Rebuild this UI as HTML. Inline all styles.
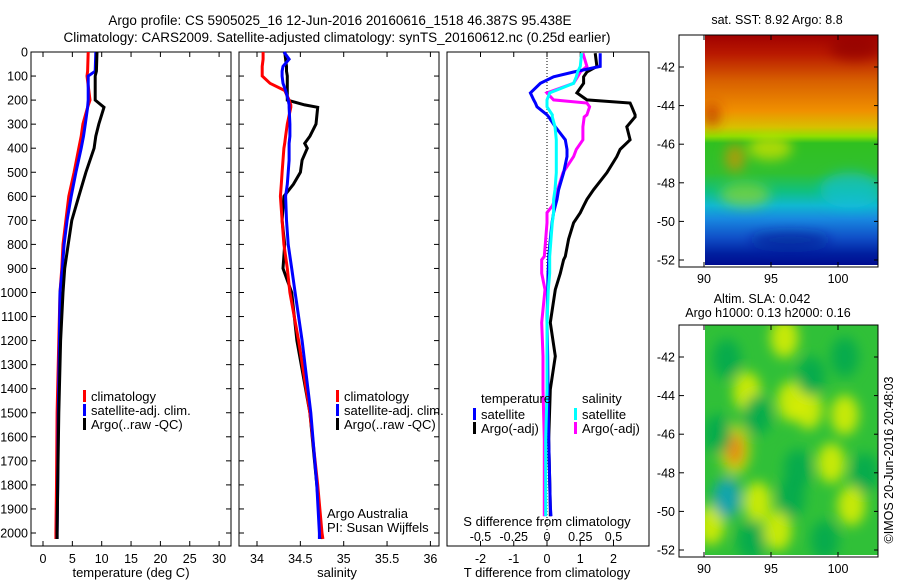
<!DOCTYPE html>
<html><head><meta charset="utf-8"><style>
body{margin:0;background:#fff}
svg{display:block;font-family:"Liberation Sans",sans-serif}
</style></head><body>
<svg id="fig" width="900" height="580" viewBox="0 0 900 580" xmlns="http://www.w3.org/2000/svg">
<defs>
<linearGradient id="sstg" x1="0" y1="0" x2="0" y2="1">
<stop offset="0" stop-color="#a00000"/><stop offset="0.08" stop-color="#b81800"/>
<stop offset="0.2" stop-color="#d86000"/><stop offset="0.33" stop-color="#f09000"/>
<stop offset="0.4" stop-color="#d8c000"/><stop offset="0.44" stop-color="#90e000"/>
<stop offset="0.47" stop-color="#30c020"/><stop offset="0.6" stop-color="#30c030"/>
<stop offset="0.68" stop-color="#10c080"/><stop offset="0.74" stop-color="#10b8d0"/>
<stop offset="0.8" stop-color="#1888e0"/><stop offset="0.88" stop-color="#1050c8"/>
<stop offset="0.95" stop-color="#0020a0"/><stop offset="1" stop-color="#000c90"/>
</linearGradient>
<filter id="blur6"><feGaussianBlur stdDeviation="6"/></filter>
<clipPath id="clipA"><rect x="705" y="35" width="173" height="230"/></clipPath>
<clipPath id="clipB"><rect x="705" y="325" width="173" height="230"/></clipPath>
</defs>

<g font-size="13.5" text-anchor="middle">
<text x="340" y="25">Argo profile: CS 5905025_16 12-Jun-2016 20160616_1518 46.387S 95.438E</text>
<text x="337" y="42">Climatology: CARS2009. Satellite-adjusted climatology: synTS_20160612.nc (0.25d earlier)</text>
</g>

<g id="panels"></g>

<g>
<text x="777" y="24" font-size="12.5" text-anchor="middle">sat. SST: 8.92 Argo: 8.8</text>
<g clip-path="url(#clipA)">
<rect x="705" y="35" width="173" height="230" fill="url(#sstg)"/>
<g filter="url(#blur6)">
<ellipse cx="770" cy="148" rx="22" ry="12" fill="#c8e000" opacity="0.8"/>
<ellipse cx="735" cy="158" rx="10" ry="14" fill="#d89000" opacity="0.7"/>
<ellipse cx="745" cy="195" rx="25" ry="12" fill="#a0d820" opacity="0.6"/>
<ellipse cx="850" cy="190" rx="30" ry="18" fill="#10c0e0" opacity="0.6"/>
<ellipse cx="855" cy="48" rx="25" ry="12" fill="#900000" opacity="0.7"/>
<ellipse cx="712" cy="115" rx="8" ry="12" fill="#b83000" opacity="0.7"/>
<ellipse cx="790" cy="240" rx="40" ry="8" fill="#002090" opacity="0.6"/>
</g>
</g>
<rect x="679" y="35" width="199" height="232" fill="none" stroke="#000"/>
</g>

<g>
<text x="762" y="303" font-size="12.5" text-anchor="middle">Altim. SLA: 0.042</text>
<text x="768" y="317" font-size="12.5" text-anchor="middle">Argo h1000: 0.13 h2000: 0.16</text>
<g clip-path="url(#clipB)">
<rect x="705" y="325" width="173" height="230" fill="#30c038"/>
<g filter="url(#blur6)" id="slablobs"></g>
</g>
<rect x="679" y="325" width="199" height="232" fill="none" stroke="#000"/>
</g>
<text transform="translate(893,460) rotate(-90)" font-size="12.5" text-anchor="middle">©IMOS 20-Jun-2016 20:48:03</text>
</svg>
<script>
// ---- data ----
const depthsT = [0,80,100,200,230,300,350,400,500,600,700,800,900,1000,1200,1500,1800,2000,2025];
const tempArgo = [9.2,9.1,8.9,8.9,10.4,9.5,9.0,8.7,7.3,6.1,4.9,4.3,3.7,3.4,3.0,2.7,2.5,2.4,2.4];
const tempClim = [7.7,7.6,7.5,8.0,7.6,6.8,6.5,6.1,5.3,4.4,3.9,3.4,3.2,2.9,2.7,2.4,2.3,2.2,2.2];
const tempSat  = [9.0,8.9,7.7,7.7,7.6,7.2,6.9,6.5,5.6,4.8,4.1,3.6,3.3,2.9,2.8,2.6,2.5,2.4,2.4];
const depthsS = [0,30,60,80,100,130,160,200,220,230,300,350,380,400,450,500,550,600,700,800,900,1000,1200,1500,1800,2000,2025];
const salArgo = [34.32,34.33,34.34,34.34,34.35,34.35,34.35,34.35,34.55,34.70,34.68,34.61,34.55,34.58,34.52,34.50,34.42,34.31,34.29,34.32,34.30,34.40,34.46,34.61,34.69,34.74,34.74];
const salClim = [34.07,34.07,34.06,34.06,34.06,34.15,34.32,34.37,34.39,34.39,34.35,34.33,34.32,34.31,34.30,34.29,34.28,34.27,34.29,34.31,34.35,34.38,34.48,34.61,34.70,34.75,34.76];
const salSat  = [34.31,34.37,34.30,34.29,34.29,34.30,34.33,34.36,34.37,34.37,34.38,34.38,34.37,34.37,34.37,34.36,34.35,34.33,34.34,34.36,34.40,34.44,34.52,34.62,34.69,34.72,34.72];
const depthsD = [5,60,83,103,130,170,199,212,228,261,270,311,365,405,435,502,573,613,640,668,710,778,850,864,920,988,1125,1265,1403,1610,1888,1930];
const dTsat  = [1.6,1.6,0.8,0.2,-0.2,-0.5,-0.4,-0.35,-0.3,0.0,0.05,0.25,0.55,0.6,0.6,0.5,0.35,0.3,0.25,0.2,0.15,0.1,0.05,0.05,0.03,0.02,0.0,0.02,0.03,0.05,0.1,0.12];
const dTargo = [1.45,1.5,1.2,1.1,1.1,0.9,1.2,2.5,2.55,2.65,2.65,2.4,2.5,2.2,2.1,1.8,1.4,1.2,1.1,1.0,0.8,0.65,0.55,0.5,0.4,0.25,0.1,0.25,0.1,0.05,0.1,0.1];
const dSsat  = [0.26,0.25,0.23,0.22,0.2,0.02,0.0,0.0,0.0,0.04,0.04,0.06,0.07,0.07,0.07,0.07,0.06,0.05,0.05,0.05,0.04,0.03,0.02,0.02,0.02,0.01,0.0,0.0,0.0,-0.01,-0.01,-0.01];
const dSargo = [0.27,0.3,0.25,0.23,0.2,0.0,0.05,0.3,0.32,0.3,0.28,0.27,0.27,0.22,0.2,0.12,0.08,0.06,0.04,0.0,0.0,-0.01,-0.02,-0.04,-0.04,-0.015,-0.04,-0.03,-0.03,-0.02,-0.02,-0.02];
const depthTicks = [0,100,200,300,400,500,600,700,800,900,1000,1100,1200,1300,1400,1500,1600,1700,1800,1900,2000];
const tempTicks = [0,5,10,15,20,25,30];
const salTicks = [34,34.5,35,35.5,36];
const dTTicks = [-2,-1,0,1,2];
const dSTicks = [-0.5,-0.25,0,0.25,0.5];
const dSTickLabels = ["-0.5","-0.25","0","0.25","0.5"];
const latTicks = [-42,-44,-46,-48,-50,-52];
const lonTicks = [90,95,100];
const slaLon = [92.3,90.5,94,96.5,97.8,101,95.5,93.2,99.5,100.5,96,91.7,91.7,94,96.5,98,91,100.5,97,102,93.5,99];
const slaLat = [-46.8,-50.7,-49.5,-44.3,-44.7,-49.7,-51,-43.8,-47.5,-45,-41,-42.1,-49.3,-45,-49.3,-43,-46,-42,-47.8,-48,-51.5,-51.5];
const slaVal = [3,2,2,2,2,2,2,2,2,2,2,-1,-2,-1,-1,-1,-1,-1,-1,-1,-1,-1];

// ---- axes ----
const Y0=52, YS=481/2000;
const yD = d => Y0 + d*YS;
const xT = t => 43 + t*5.87;
const xS = s => 257 + (s-34)*86.7;
const xdT = t => 547 + t*33.25;
const xdS = s => 547 + s*133;
const xLon = l => 704 + (l-90)*13.4;
const yLatA = l => 67 + (-42-l)*19.3;
const yLatB = l => 357 + (-42-l)*19.3;

const NS="http://www.w3.org/2000/svg";
const root=document.getElementById('panels');
function mk(tag,attrs,parent){const e=document.createElementNS(NS,tag);for(const k in attrs)e.setAttribute(k,attrs[k]);(parent||root).appendChild(e);return e;}
function txt(x,y,s,anchor,size,parent){const e=mk('text',{x:x,y:y,'font-size':size||13,'text-anchor':anchor||'start'},parent);e.textContent=s;return e;}
function line(xs,ys,color,name){
  let p=xs.map((x,i)=>x.toFixed(1)+','+ys[i].toFixed(1)).join(' ');
  const e=mk('polyline',{points:p,fill:'none',stroke:color,'stroke-width':3,'stroke-linejoin':'miter'});
  
  
  return e;
}
function frame(x0,x1,name){
  const e=mk('rect',{x:x0,y:52,width:x1-x0,height:494,fill:'none',stroke:'#000'});
  
  
}
depthTicks.forEach(d=>{const t=txt(28,yD(d)+4.5,String(d),'end',12.5);
  
  });
[[31,231],[239,439]].forEach(([a,b])=>{depthTicks.forEach(d=>{
  mk('line',{x1:a,x2:a+5,y1:yD(d),y2:yD(d),stroke:'#000'});
  mk('line',{x1:b,x2:b-5,y1:yD(d),y2:yD(d),stroke:'#000'});});});

frame(31,231,'temperature-panel');
tempTicks.forEach(t=>{mk('line',{x1:xT(t),x2:xT(t),y1:546,y2:541,stroke:'#000'});mk('line',{x1:xT(t),x2:xT(t),y1:52,y2:57,stroke:'#000'});
  const l=txt(xT(t),563,String(t),'middle',12.5);
  
  });
let xl=txt(131,577,'temperature (deg C)','middle',13);


line(tempClim.map(xT),depthsT.map(yD),'#ff0000','temp-climatology-line');
line(tempSat.map(xT),depthsT.map(yD),'#0000ff','temp-satellite-line');
line(tempArgo.map(xT),depthsT.map(yD),'#000000','temp-argo-line');

frame(239,439,'salinity-panel');
salTicks.forEach(s=>{mk('line',{x1:xS(s),x2:xS(s),y1:546,y2:541,stroke:'#000'});mk('line',{x1:xS(s),x2:xS(s),y1:52,y2:57,stroke:'#000'});
  const l=txt(xS(s),563,String(s),'middle',12.5);
  
  });
xl=txt(337,577,'salinity','middle',13);


line(salArgo.map(xS),depthsS.map(yD),'#000000','sal-argo-line');
line(salClim.map(xS),depthsS.map(yD),'#ff0000','sal-climatology-line');
line(salSat.map(xS),depthsS.map(yD),'#0000ff','sal-satellite-line');
txt(327,518,'Argo Australia','start',13);
txt(327,532,'PI: Susan Wijffels','start',13);

function legend(x,y,items,name){items.forEach(([c,label],i)=>{
  const g=mk('g',{});
  
  
  mk('rect',{x:x,y:y+i*14-9,width:3,height:12,fill:c},g);
  txt(x+8,y+i*14+2,label,'start',13,g);});}
legend(83,399,[['#ff0000','climatology'],['#0000ff','satellite-adj. clim.'],['#000','Argo(..raw -QC)']],'temperature-legend-entry');
legend(336,399,[['#ff0000','climatology'],['#0000ff','satellite-adj. clim.'],['#000','Argo(..raw -QC)']],'salinity-legend-entry');

frame(447,649,'difference-panel');
mk('line',{x1:547,x2:547,y1:52,y2:546,stroke:'#000','stroke-dasharray':'1,2'});
dTTicks.forEach(t=>{mk('line',{x1:xdT(t),x2:xdT(t),y1:546,y2:541,stroke:'#000'});mk('line',{x1:xdT(t),x2:xdT(t),y1:52,y2:57,stroke:'#000'});
  const l=txt(xdT(t),563,String(t),'middle',12.5);
  
  });
xl=txt(547,577,'T difference from climatology','middle',13);


dSTicks.forEach((s,i)=>{const l=txt(xdS(s),541,dSTickLabels[i],'middle',12.5);
  
  });
xl=txt(547,526,'S difference from climatology','middle',13);


line(dTargo.map(xdT),depthsD.map(yD),'#000000','dT-argo-line');
line(dSargo.map(xdS),depthsD.map(yD),'#ff00ff','dS-argo-line');
line(dTsat.map(xdT),depthsD.map(yD),'#0000ff','dT-satellite-line');
line(dSsat.map(xdS),depthsD.map(yD),'#00ffff','dS-satellite-line');
let tt=txt(481,403,'temperature','start',13);
tt=txt(582,403,'salinity','start',13);
legend(473,417,[['#0000ff','satellite'],['#000','Argo(-adj)']],'dT-legend-entry');
legend(574,417,[['#00ffff','satellite'],['#ff00ff','Argo(-adj)']],'dS-legend-entry');

const svg=document.getElementById('fig');
[[yLatA,267,35],[yLatB,557,325]].forEach(([fy,bot,top])=>{
  latTicks.forEach(l=>{const y=fy(l);
    mk('line',{x1:679,x2:684,y1:y,y2:y,stroke:'#000'},svg);mk('line',{x1:878,x2:874,y1:y,y2:y,stroke:'#000'},svg);
    const t=txt(675,y+4.5,String(l),'end',12.5,svg);
    
    });
  lonTicks.forEach(l=>{const x=xLon(l);
    mk('line',{x1:x,x2:x,y1:bot,y2:bot-5,stroke:'#000'},svg);mk('line',{x1:x,x2:x,y1:top,y2:top+5,stroke:'#000'},svg);
    const t=txt(x,bot+16,String(l),'middle',12.5,svg);
    
    });
});
const blobs=document.getElementById('slablobs');
const slaCol={'3':'#f08010','2':'#e0f000','-1':'#00a850','-2':'#10a0c0'};
slaLon.forEach((lo,i)=>{const v=slaVal[i];
  const e=mk('ellipse',{cx:xLon(lo),cy:yLatB(slaLat[i]),rx:v==3?9:14,ry:v==3?16:20,fill:slaCol[String(v)],opacity:0.85},blobs);
  
  
  if(v==3){const e2=mk('ellipse',{cx:xLon(lo),cy:yLatB(slaLat[i]),rx:16,ry:26,fill:'#e8e000',opacity:0.7},blobs);blobs.insertBefore(e2,e);}
});
</script>
</body></html>
